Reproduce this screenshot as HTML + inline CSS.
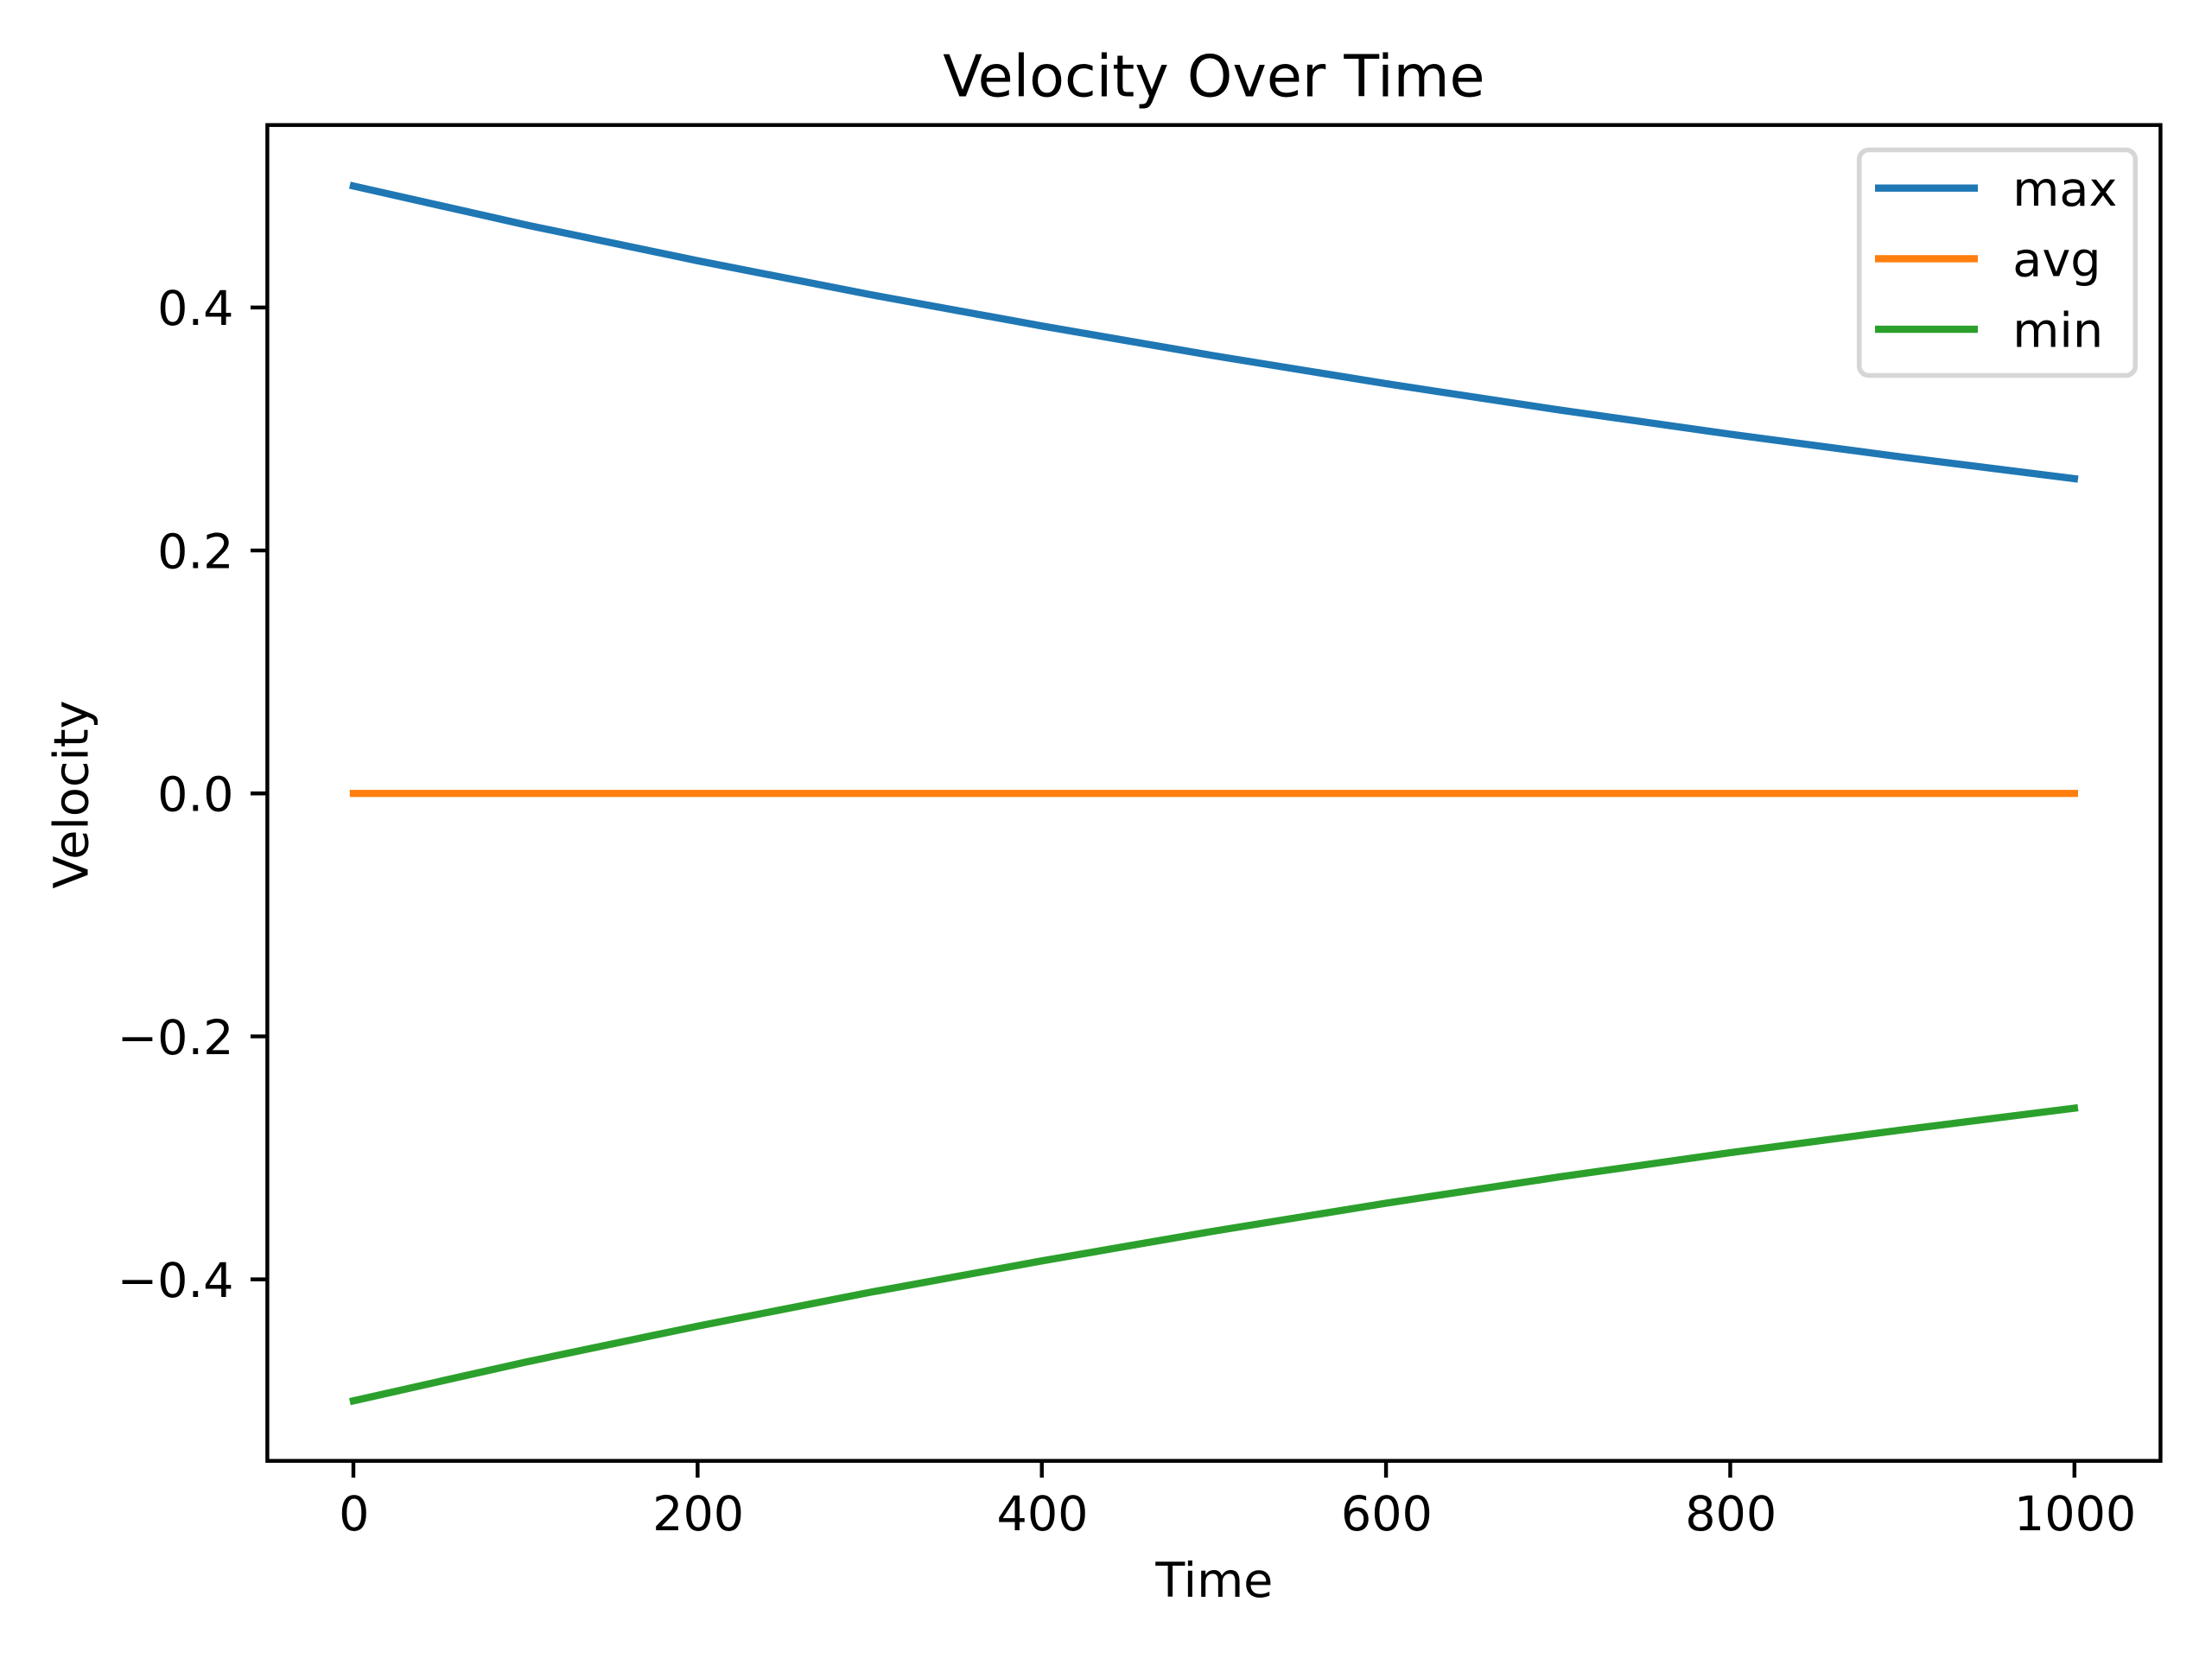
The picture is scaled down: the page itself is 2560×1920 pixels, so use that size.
<!DOCTYPE html>
<html lang="en">
<head>
<meta charset="utf-8">
<title>Velocity Over Time</title>
<style>
  html, body { margin: 0; padding: 0; background: #ffffff; }
  body { width: 2560px; height: 1920px; overflow: hidden; }
  svg { display: block; }
  text { font-family: "DejaVu Sans", "Liberation Sans", sans-serif; fill: #000000; }
</style>
</head>
<body>
<svg id="chart" xmlns="http://www.w3.org/2000/svg" width="2560" height="1920" viewBox="0 0 2560 1920">
  <rect x="0" y="0" width="2560" height="1920" fill="#ffffff"/>
  <text x="1404.9" y="111.5" font-size="66.67" text-anchor="middle">Velocity Over Time</text>
  <text x="1405.4" y="1848" font-size="55.56" text-anchor="middle">Time</text>
  <text x="0" y="0" font-size="55.56" text-anchor="middle" transform="translate(101.5 919.5) rotate(-90)">Velocity</text>
  <g id="series-layer"></g>
  <g id="axis-layer"></g>
  <g id="legend-layer"></g>
</svg>
<script>
const times = [0, 100, 200, 300, 400, 500, 600, 700, 800, 900, 1000];
const maxValues = [0.5, 0.4681, 0.4385, 0.4107, 0.3848, 0.3603, 0.3373, 0.3158, 0.2957, 0.2769, 0.2591];
const avgValues = [0, 0, 0, 0, 0, 0, 0, 0, 0, 0, 0];
const minValues = [-0.5, -0.4681, -0.4385, -0.4107, -0.3848, -0.3603, -0.3373, -0.3158, -0.2957, -0.2769, -0.2591];
const xTickValues = [0, 200, 400, 600, 800, 1000];
const xTickLabels = ["0", "200", "400", "600", "800", "1000"];
const yTickValues = [0.4, 0.2, 0, -0.2, -0.4];
const yTickLabels = ["0.4", "0.2", "0.0", "\u22120.2", "\u22120.4"];
const seriesNames = ["max", "avg", "min"];
const seriesColors = ["#1f77b4", "#ff7f0e", "#2ca02c"];

const SVG_NS = "http://www.w3.org/2000/svg";
const plotLeft = 309.4, plotRight = 2500.4, plotTop = 144.7, plotBottom = 1690.7;
const xDomainMin = -50, xDomainMax = 1050;
const yDomainMin = -0.5494, yDomainMax = 0.5502;

function xScale(v) {
  return plotLeft + (v - xDomainMin) / (xDomainMax - xDomainMin) * (plotRight - plotLeft);
}
function yScale(v) {
  return plotBottom - (v - yDomainMin) / (yDomainMax - yDomainMin) * (plotBottom - plotTop);
}
function make(tag, attrs) {
  const el = document.createElementNS(SVG_NS, tag);
  for (const k in attrs) el.setAttribute(k, attrs[k]);
  return el;
}

const seriesLayer = document.getElementById("series-layer");
const axisLayer = document.getElementById("axis-layer");
const legendLayer = document.getElementById("legend-layer");
const allSeries = [maxValues, avgValues, minValues];

allSeries.forEach(function (values, i) {
  const pts = values.map(function (v, j) {
    return xScale(times[j]).toFixed(2) + "," + yScale(v).toFixed(2);
  }).join(" ");
  const line = make("polyline", { points: pts, fill: "none", stroke: seriesColors[i], "stroke-width": 8.33, "stroke-linejoin": "round", "stroke-linecap": "square" });
  
  
  seriesLayer.appendChild(line);
});

const frame = make("rect", { x: plotLeft, y: plotTop, width: plotRight - plotLeft, height: plotBottom - plotTop, fill: "none", stroke: "#000000", "stroke-width": 4.44, "stroke-linejoin": "miter" });


axisLayer.appendChild(frame);

xTickValues.forEach(function (v, i) {
  const x = xScale(v);
  const tick = make("line", { x1: x, x2: x, y1: plotBottom, y2: plotBottom + 19.44, stroke: "#000000", "stroke-width": 4.44 });
  
  
  axisLayer.appendChild(tick);
  const label = make("text", { x: x + 0.8, y: 1771, "font-size": 55.56, "text-anchor": "middle" });
  label.textContent = xTickLabels[i];
  
  
  axisLayer.appendChild(label);
});

yTickValues.forEach(function (v, i) {
  const y = yScale(v);
  const tick = make("line", { x1: plotLeft - 19.44, x2: plotLeft, y1: y, y2: y, stroke: "#000000", "stroke-width": 4.44 });
  
  
  axisLayer.appendChild(tick);
  const label = make("text", { x: 270.5, y: y + 20.3, "font-size": 55.56, "text-anchor": "end" });
  label.textContent = yTickLabels[i];
  
  
  axisLayer.appendChild(label);
});

const legendBox = make("rect", { x: 2151.7, y: 173.5, width: 319.6, height: 261, rx: 11, ry: 11, fill: "#ffffff", "fill-opacity": 0.8, stroke: "#d6d6d6", "stroke-width": 5.56 });


legendLayer.appendChild(legendBox);

seriesNames.forEach(function (name, i) {
  const rowY = 217.7 + i * 81.7;
  const handle = make("line", { x1: 2170, x2: 2289, y1: rowY, y2: rowY, stroke: seriesColors[i], "stroke-width": 8.33 });
  
  
  legendLayer.appendChild(handle);
  const text = make("text", { x: 2329.3, y: rowY + 20.2, "font-size": 55.56 });
  text.textContent = name;
  
  
  legendLayer.appendChild(text);
});
</script>
</body>
</html>
